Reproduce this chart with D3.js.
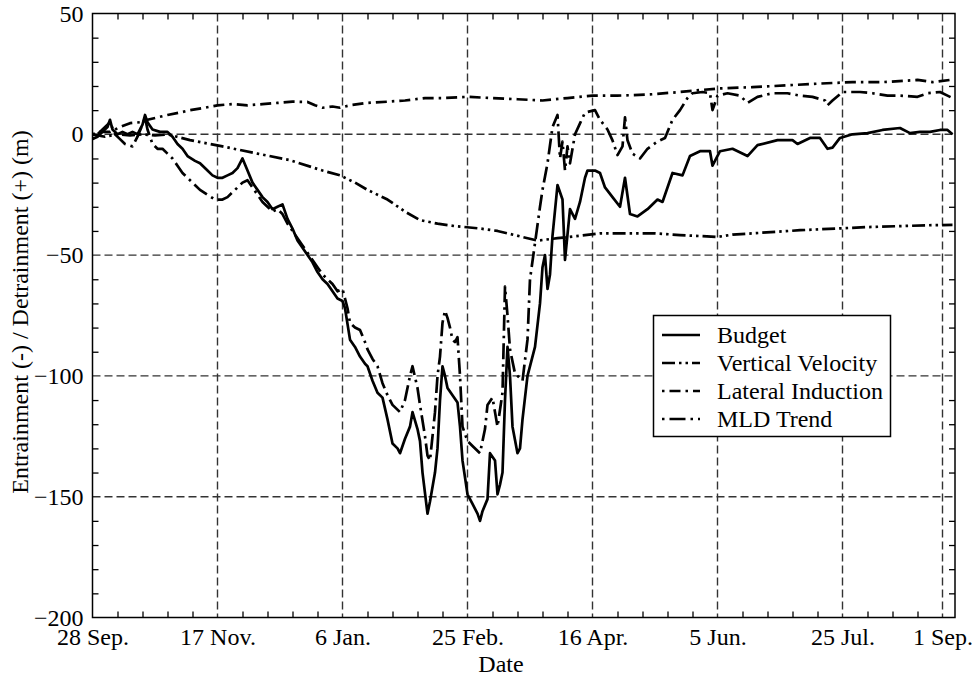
<!DOCTYPE html>
<html>
<head>
<meta charset="utf-8">
<script src="https://cdn.jsdelivr.net/npm/d3@7"></script>
<style>
  html, body { margin: 0; padding: 0; background: #fff; }
  svg { display: block; }
  text { font-family: "Liberation Serif", "Times New Roman", serif; fill: #000; }
</style>
</head>
<body>
<svg id="chart" width="976" height="679"></svg>
<script>
// ---------------- DATA (day since 28 Sep, metres) ----------------
const xTickDays = [0, 50, 100, 150, 200, 250, 300, 340];
const xTickLabels = ["28 Sep.", "17 Nov.", "6 Jan.", "25 Feb.", "16 Apr.", "5 Jun.", "25 Jul.", "1 Sep."];
const yTickValues = [50, 0, -50, -100, -150, -200];
const seriesNames = ["Budget", "Vertical Velocity", "Lateral Induction", "MLD Trend"];

const budget = [[0,-2],[2,-1],[4,1],[6,3],[7,6],[8,2],[10,0],[12,1],[14,0],[16,1],[18,0],[20,4],[21,8],[22,5],[24,2],[27,1],[30,1],[32,-1],[34,-4],[36,-6],[38,-9],[41,-11],[43,-12],[46,-15],[48,-17],[50,-18],[52,-18],[54,-17],[56,-16],[58,-14],[60,-10],[62,-15],[64,-20],[66,-23],[68,-26],[70,-28],[72,-31],[74,-30],[76,-29],[78,-35],[80,-39],[82,-44],[84,-47],[86,-50],[88,-53],[90,-57],[92,-60],[94,-62],[96,-65],[98,-68],[100,-69],[101,-72],[103,-85],[105,-88],[107,-92],[109,-95],[110,-96],[112,-102],[114,-107],[116,-109],[118,-118],[120,-128],[122,-130],[123,-132],[125,-126],[127,-121],[128,-115],[130,-122],[131,-127],[132,-140],[134,-157],[135,-152],[137,-140],[138,-130],[139,-110],[140,-96],[141,-100],[142,-105],[144,-108],[146,-111],[147,-121],[148,-135],[150,-149],[152,-153],[154,-157],[155,-160],[156,-156],[158,-151],[159,-132],[161,-135],[162,-149],[163,-145],[164,-140],[165,-110],[166,-88],[167,-100],[168,-121],[170,-132],[171,-130],[172,-118],[174,-100],[177,-88],[179,-70],[180,-55],[181,-50],[182,-64],[183,-58],[184,-42],[186,-21],[188,-27],[189,-52],[191,-31],[193,-35],[195,-28],[197,-18],[198,-15],[201,-15],[203,-16],[205,-22],[208,-26],[211,-30],[213,-18],[215,-33],[218,-34],[222,-31],[226,-27],[228,-28],[232,-16],[236,-17],[239,-9],[243,-7],[247,-7],[248,-13],[251,-7],[256,-6],[262,-9],[266,-4.5],[274,-2.4],[280,-2.4],[282,-4],[287,-1.5],[291,-1.5],[294,-6],[296,-5.5],[299,-1.5],[304,0],[310,0.5],[316,1.8],[323,2.6],[327,0.5],[331,1],[335,1],[339,1.8],[342,1.8],[344,0]];

const verticalVelocity = [[0,0],[5,-1],[10,0],[15,-0.5],[20,0],[25,-0.5],[30,0],[39,-2.4],[52,-5],[66,-8],[79,-10.7],[92,-15],[99,-17],[105,-20],[110,-23],[118,-27],[125,-32],[131,-35.5],[138,-37],[145,-38],[155,-39],[162,-40],[172,-42.5],[178,-44],[186,-43],[195,-42],[203,-41],[215,-41],[225,-41],[235,-41.7],[250,-42.5],[256,-41.5],[264,-41],[283,-39.7],[310,-38.4],[336,-37.6],[344,-37.5]];

const lateralInduction = [[0,0],[3,1],[7,1],[11,3],[15,4.6],[19,5],[22,6],[26,7],[30,8],[35,9],[39,10],[45,11],[50,12],[56,12.5],[62,12],[68,12.5],[74,13],[80,13.5],[86,13.4],[89,12],[92,11],[96,11.5],[99,11],[103,12],[110,13],[118,13.5],[125,14],[133,15],[140,15],[150,15.5],[160,15],[170,14.5],[180,14],[190,15],[200,16],[210,16],[223,16.5],[235,17.5],[243,18.3],[251,19],[264,19.5],[280,20.4],[291,21],[304,21.6],[316,21.6],[330,22.5],[336,21.6],[343,22.5]];

const mldTrend = [[0,-2],[2,0],[4,2],[6,4],[7,5],[9,0],[11,-2],[13,-4],[16,-5],[18,-1],[20,4],[21,7],[22,2],[24,-4],[26,-6],[28,-6],[30,-8],[32,-10],[34,-13],[36,-16],[38,-18],[40,-20],[43,-23],[46,-25],[49,-27],[52,-27],[54,-26],[56,-24],[58,-22],[60,-20],[62,-19],[64,-22],[66,-25],[68,-28],[70,-30],[72,-32],[74,-31],[76,-33],[78,-37],[80,-40],[82,-43],[84,-46],[86,-49],[88,-52],[90,-55],[92,-58],[94,-60],[96,-62],[98,-65],[100,-64],[102,-72],[103,-78],[105,-80],[107,-81],[109,-86],[110,-89],[112,-93],[114,-96],[116,-103],[118,-108],[120,-112],[123,-115],[125,-110],[127,-100],[128,-96],[130,-105],[131,-112],[133,-125],[134,-133],[135,-135],[136,-125],[137,-115],[138,-100],[139,-92],[140,-78],[141,-73],[142,-76],[143,-80],[144,-85],[145,-86],[146,-84],[147,-100],[148,-121],[150,-127],[152,-129],[155,-132],[157,-122],[158,-112],[160,-109],[161,-115],[162,-121],[163,-114],[164,-107],[165,-63],[166,-75],[167,-89],[169,-99],[172,-102],[174,-85],[175,-60],[177,-45],[179,-30],[180,-23],[182,-12],[184,3],[186,8],[187,-10],[188,-3],[189,-15],[190,-5],[191,-12],[193,0],[195,4.5],[197,9],[201,10],[203,6],[206,2],[208,-2.5],[210,-8.6],[212,-5],[213,7],[214,-2.5],[216,-8],[219,-10],[222,-6],[226,-3],[229,-1.5],[232,6],[235,10],[238,15],[240,17],[244,17.5],[247,17],[248,10],[250,16],[254,17],[259,16],[262,13],[266,15.5],[272,17],[278,17],[283,16],[288,15.5],[293,14],[294,12],[296,14],[300,17.5],[307,17.5],[312,17],[318,16],[323,16],[330,15.5],[334,17],[339,17.5],[342,16],[344,15]];

// ---------------- LAYOUT ----------------
const svg = d3.select("#chart");
const L = 92.5, R = 955, T = 13.5, B = 617.5;
const FS = 24;
const x = d3.scaleLinear().domain([0, 345]).range([L, R]);
const y = d3.scaleLinear().domain([-200, 50]).range([B, T]);

const minorX = d3.range(0, 345, 10).filter(d => !xTickDays.includes(d));
const minorY = d3.range(-200, 51, 10).filter(d => !yTickValues.includes(d));

// gridlines (dashed)
const gridX = xTickDays.filter(d => d > 0);
const gridY = yTickValues.filter(d => d > -200 && d < 50);
const grid = svg.append("g").attr("stroke", "#333").attr("stroke-width", 1.4).attr("stroke-dasharray", "8,4");
grid.selectAll("line.gx").data(gridX).join("line").attr("class","gx")
  .attr("x1", d => x(d)).attr("x2", d => x(d)).attr("y1", T).attr("y2", B);
grid.selectAll("line.gy").data(gridY).join("line").attr("class","gy")
  .attr("x1", L).attr("x2", R).attr("y1", d => y(d)).attr("y2", d => y(d));

// minor ticks via d3 axes (inward)
function styleAxis(g) {
  g.select(".domain").remove();
  g.selectAll("line").attr("stroke", "#000").attr("stroke-width", 1.3);
}
svg.append("g").attr("transform", `translate(0,${B})`)
  .call(d3.axisBottom(x).tickValues(minorX).tickSize(-6).tickFormat("")).call(styleAxis);
svg.append("g").attr("transform", `translate(0,${T})`)
  .call(d3.axisTop(x).tickValues(minorX).tickSize(-6).tickFormat("")).call(styleAxis);
svg.append("g").attr("transform", `translate(${L},0)`)
  .call(d3.axisLeft(y).tickValues(minorY).tickSize(-6).tickFormat("")).call(styleAxis);
svg.append("g").attr("transform", `translate(${R},0)`)
  .call(d3.axisRight(y).tickValues(minorY).tickSize(-6).tickFormat("")).call(styleAxis);

// tick labels
const xLab = svg.append("g").attr("transform", `translate(0,${B})`)
  .call(d3.axisBottom(x).tickValues(xTickDays).tickSize(0).tickPadding(10)
    .tickFormat((d, i) => xTickLabels[i]));
xLab.select(".domain").remove();
xLab.selectAll("text").attr("font-size", FS).attr("font-family", "Liberation Serif").attr("fill", "#000");

const yLab = svg.append("g").attr("transform", `translate(${L},0)`)
  .call(d3.axisLeft(y).tickValues(yTickValues).tickSize(0).tickPadding(9));
yLab.select(".domain").remove();
yLab.selectAll("text").attr("font-size", FS).attr("font-family", "Liberation Serif").attr("fill", "#000");

// frame
svg.append("rect").attr("x", L).attr("y", T).attr("width", R - L).attr("height", B - T)
  .attr("fill", "none").attr("stroke", "#000").attr("stroke-width", 1.5);

// axis titles
svg.append("text").attr("x", 501).attr("y", 672).attr("text-anchor", "middle")
  .attr("font-size", FS).text("Date");
svg.append("text").attr("transform", `translate(28,312) rotate(-90)`)
  .attr("text-anchor", "middle").attr("font-size", FS)
  .text("Entrainment (-) / Detrainment (+) (m)");

// ---------------- LINES ----------------
const styles = [
  { data: budget, dash: null },
  { data: verticalVelocity, dash: "13,4,2.5,4,2.5,4" },
  { data: lateralInduction, dash: "2.5,5,11,5" },
  { data: mldTrend, dash: "2.5,5,16,5" }
];
const line = d3.line().x(d => x(d[0])).y(d => y(d[1]));
const plot = svg.append("g");
plot.append("clipPath").attr("id", "clip").append("rect")
  .attr("x", L).attr("y", T).attr("width", R - L).attr("height", B - T);
styles.forEach(s => {
  plot.append("path").datum(s.data).attr("d", line)
    .attr("fill", "none").attr("stroke", "#000").attr("stroke-width", 2.7)
    .attr("stroke-linejoin", "round")
    .attr("stroke-dasharray", s.dash).attr("clip-path", "url(#clip)");
});

// ---------------- LEGEND ----------------
const lg = svg.append("g");
lg.append("rect").attr("x", 653.5).attr("y", 315.5).attr("width", 237).attr("height", 121)
  .attr("fill", "#fff").attr("stroke", "#000").attr("stroke-width", 1.5);
const lgY = d3.scalePoint().domain(seriesNames).range([335, 419]);
seriesNames.forEach((n, i) => {
  const yy = lgY(n);
  lg.append("line").attr("x1", 662).attr("x2", 700).attr("y1", yy).attr("y2", yy)
    .attr("stroke", "#000").attr("stroke-width", 2.7).attr("stroke-dasharray", styles[i].dash);
  lg.append("text").attr("x", 717).attr("y", yy).attr("dy", "0.35em")
    .attr("font-size", FS).text(n);
});
</script>
</body>
</html>
